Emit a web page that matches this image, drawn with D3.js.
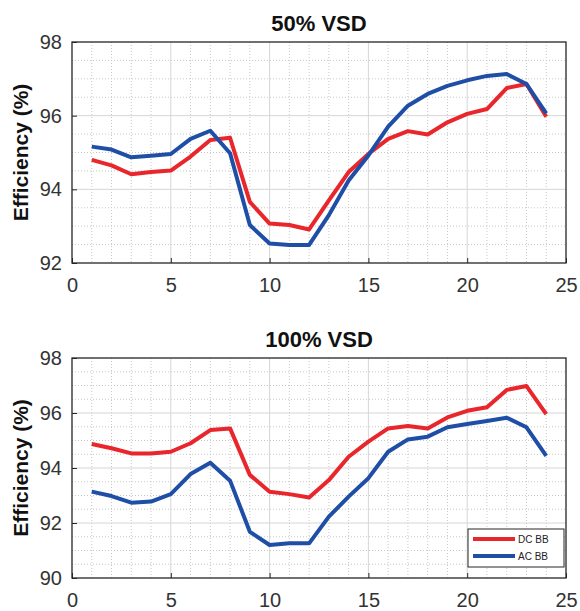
<!DOCTYPE html>
<html>
<head>
<meta charset="utf-8">
<script src="https://cdn.jsdelivr.net/npm/d3@7"></script>
<style>
  body { margin: 0; background: #fff; }
  text { font-family: "Liberation Sans", Arial, sans-serif; }
</style>
</head>
<body>
<div id="my_dataviz"></div>
<script>
// hours of the day
var hours = [1,2,3,4,5,6,7,8,9,10,11,12,13,14,15,16,17,18,19,20,21,22,23,24];

// 50% VSD
var dc50 = [94.80,94.65,94.41,94.47,94.51,94.89,95.34,95.40,93.66,93.07,93.03,92.91,
            93.70,94.47,94.96,95.37,95.58,95.49,95.82,96.05,96.18,96.75,96.86,95.97];
var ac50 = [95.16,95.08,94.87,94.91,94.96,95.37,95.59,94.98,93.03,92.53,92.49,92.49,
            93.30,94.24,94.92,95.70,96.27,96.59,96.81,96.96,97.08,97.13,96.86,96.06];

// 100% VSD
var dc100 = [94.87,94.72,94.53,94.53,94.59,94.90,95.38,95.44,93.75,93.14,93.05,92.93,
             93.56,94.41,94.96,95.44,95.53,95.44,95.84,96.08,96.21,96.84,96.98,95.96];
var ac100 = [93.14,92.98,92.74,92.78,93.05,93.78,94.19,93.54,91.68,91.20,91.26,91.26,
             92.23,92.96,93.63,94.59,95.04,95.14,95.48,95.60,95.71,95.83,95.48,94.44];

var xTicks = [0,5,10,15,20,25];
var yTicksTop = [92,94,96,98];
var yTicksBottom = [90,92,94,96,98];
var seriesNames = ["DC BB", "AC BB"];
var colors = {"DC BB": "#e8262b", "AC BB": "#1f4ea6"};

var width = 580, height = 611;

var svg = d3.select("#my_dataviz")
  .append("svg")
    .attr("width", width)
    .attr("height", height);

function drawPanel(opts) {
  var x = d3.scaleLinear().domain([0, 25]).range([72, 566]);
  var y = d3.scaleLinear().domain(opts.yDomain).range([opts.bottom, opts.top]);

  var g = svg.append("g");

  // minor grid (dotted)
  g.selectAll(".minorx")
    .data(d3.range(1, 25).filter(function(d) { return d % 5 != 0; }))
    .enter().append("line")
      .attr("x1", function(d) { return x(d); })
      .attr("x2", function(d) { return x(d); })
      .attr("y1", opts.top).attr("y2", opts.bottom)
      .attr("stroke", "#c8c8c8")
      .attr("stroke-width", 1)
      .attr("stroke-dasharray", "1,2");

  var yMinor = d3.range(opts.yDomain[0] + 0.5, opts.yDomain[1], 0.5)
    .filter(function(d) { return Math.abs(d % 2) > 0.01; });
  g.selectAll(".minory")
    .data(yMinor)
    .enter().append("line")
      .attr("x1", x(0)).attr("x2", x(25))
      .attr("y1", function(d) { return y(d); })
      .attr("y2", function(d) { return y(d); })
      .attr("stroke", "#c8c8c8")
      .attr("stroke-width", 1)
      .attr("stroke-dasharray", "1,2");

  // major grid
  g.selectAll(".majorx")
    .data(xTicks.slice(1, -1))
    .enter().append("line")
      .attr("x1", function(d) { return x(d); })
      .attr("x2", function(d) { return x(d); })
      .attr("y1", opts.top).attr("y2", opts.bottom)
      .attr("stroke", "#d6d6d6");
  g.selectAll(".majory")
    .data(opts.yTicks.slice(1, -1))
    .enter().append("line")
      .attr("x1", x(0)).attr("x2", x(25))
      .attr("y1", function(d) { return y(d); })
      .attr("y2", function(d) { return y(d); })
      .attr("stroke", "#d6d6d6");

  // box
  g.append("rect")
    .attr("x", x(0)).attr("y", opts.top)
    .attr("width", x(25) - x(0)).attr("height", opts.bottom - opts.top)
    .attr("fill", "none")
    .attr("stroke", "#262626")
    .attr("stroke-width", 1.3);

  // axes
  var xAxis = d3.axisBottom(x).tickValues(xTicks).tickFormat(d3.format("d"))
    .tickSizeInner(-5).tickSizeOuter(0).tickPadding(12);
  g.append("g")
    .attr("transform", "translate(0," + opts.bottom + ")")
    .call(xAxis)
    .call(function(a) {
      a.select(".domain").remove();
      a.selectAll("line").attr("stroke", "#262626");
      a.selectAll("text").attr("font-size", 20).attr("fill", "#333").attr("dy", "0.85em");
    });

  var yAxis = d3.axisLeft(y).tickValues(opts.yTicks).tickFormat(d3.format("d"))
    .tickSizeInner(-5).tickSizeOuter(0).tickPadding(10);
  g.append("g")
    .attr("transform", "translate(" + x(0) + ",0)")
    .call(yAxis)
    .call(function(a) {
      a.select(".domain").remove();
      a.selectAll("line").attr("stroke", "#262626");
      a.selectAll("text").attr("font-size", 20).attr("fill", "#333");
    });

  // lines
  var line = d3.line()
    .x(function(d) { return x(d.hour); })
    .y(function(d) { return y(d.value); });

  opts.series.forEach(function(s) {
    var pts = hours.map(function(h, i) { return {hour: h, value: s.values[i]}; });
    g.append("path")
      .datum(pts)
      .attr("d", line)
      .attr("fill", "none")
      .attr("stroke", colors[s.name])
      .attr("stroke-width", 4)
      .attr("stroke-linejoin", "round");
  });

  // title
  g.append("text")
    .attr("x", (x(0) + x(25)) / 2)
    .attr("y", opts.top - 11)
    .attr("text-anchor", "middle")
    .attr("font-weight", "bold")
    .attr("font-size", 22)
    .attr("fill", "#111")
    .text(opts.title);

  // y label
  g.append("text")
    .attr("transform", "translate(28," + ((opts.top + opts.bottom) / 2) + ") rotate(-90)")
    .attr("text-anchor", "middle")
    .attr("font-weight", "bold")
    .attr("font-size", 21)
    .attr("fill", "#111")
    .text("Efficiency (%)");

  return {x: x, y: y, g: g};
}

drawPanel({
  top: 42, bottom: 263, yDomain: [92, 98], yTicks: yTicksTop,
  title: "50% VSD",
  series: [{name: "DC BB", values: dc50}, {name: "AC BB", values: ac50}]
});

drawPanel({
  top: 358, bottom: 578, yDomain: [90, 98], yTicks: yTicksBottom,
  title: "100% VSD",
  series: [{name: "DC BB", values: dc100}, {name: "AC BB", values: ac100}]
});

// legend
var legend = svg.append("g").attr("transform", "translate(468,529)");
legend.append("rect")
  .attr("width", 96).attr("height", 38)
  .attr("fill", "#fff")
  .attr("stroke", "#262626")
  .attr("stroke-width", 1);

legend.selectAll(".lg")
  .data(seriesNames)
  .enter().append("line")
    .attr("x1", 5).attr("x2", 47)
    .attr("y1", function(d, i) { return 10 + i * 17; })
    .attr("y2", function(d, i) { return 10 + i * 17; })
    .attr("stroke", function(d) { return colors[d]; })
    .attr("stroke-width", 4);

legend.selectAll(".lt")
  .data(seriesNames)
  .enter().append("text")
    .attr("x", 50)
    .attr("y", function(d, i) { return 10 + i * 17; })
    .attr("dy", "0.35em")
    .attr("font-size", 10)
    .attr("fill", "#222")
    .text(function(d) { return d; });
</script>
</body>
</html>
